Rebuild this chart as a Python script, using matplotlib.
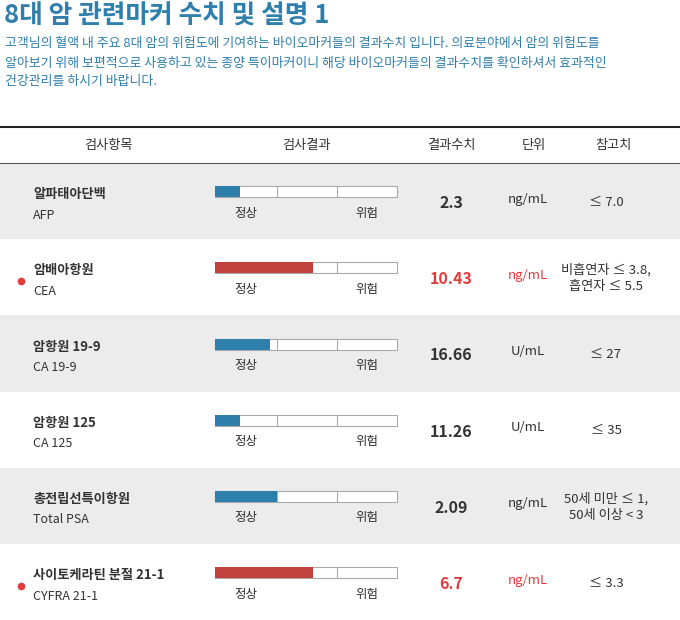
import matplotlib
matplotlib.use('Agg')
import matplotlib.pyplot as plt
from matplotlib.patches import Rectangle

plt.rcParams['font.family'] = ['Noto Sans CJK KR', 'DejaVu Sans']

# data
names_ko = ['알파태아단백', '암배아항원', '암항원 19-9', '암항원 125', '총전립선특이항원', '사이토케라틴 분절 21-1']
names_en = ['AFP', 'CEA', 'CA 19-9', 'CA 125', 'Total PSA', 'CYFRA 21-1']
values = ['2.3', '10.43', '16.66', '11.26', '2.09', '6.7']
units = ['ng/mL', 'ng/mL', 'U/mL', 'U/mL', 'ng/mL', 'ng/mL']
refs = ['≤ 7.0', '비흡연자 ≤ 3.8,\n흡연자 ≤ 5.5', '≤ 27', '≤ 35', '50세 미만 ≤ 1,\n50세 이상 < 3', '≤ 3.3']
levels = [0.14, 0.54, 0.30, 0.14, 0.34, 0.54]   # fill fraction of gauge
abnormal = [False, True, False, False, False, True]
headers = ['검사항목', '검사결과', '결과수치', '단위', '참고치']
header_x = [108, 306, 451, 534, 614]

BLUE = '#2f7fad'
RED_BAR = '#c1413d'
RED_TXT = '#e23b3b'
DARK = '#333333'

fig = plt.figure(figsize=(6.8, 6.2), dpi=100)
ax = fig.add_axes([0, 0, 1, 1])
ax.set_xlim(0, 680)
ax.set_ylim(620, 0)
ax.axis('off')

ax.text(4, 16, '8대 암 관련마커 수치 및 설명 1', fontsize=18.5, fontweight='bold',
        color=BLUE, va='center')
desc = ('고객님의 혈액 내 주요 8대 암의 위험도에 기여하는 바이오마커들의 결과수치 입니다. 의료분야에서 암의 위험도를\n'
        '알아보기 위해 보편적으로 사용하고 있는 종양 특이마커이니 해당 바이오마커들의 결과수치를 확인하셔서 효과적인\n'
        '건강관리를 하시기 바랍니다.')
ax.text(5, 63, desc, fontsize=9.3, color=BLUE, va='center', linespacing=1.6)

ax.plot([0, 680], [127, 127], color='#222222', lw=1.5)
ax.plot([0, 680], [163, 163], color='#555555', lw=0.8)
for h, x in zip(headers, header_x):
    ax.text(x, 146, h, fontsize=9.5, color=DARK, ha='center', va='center')

top, rh = 163, 76.2
gx0, gw = 215, 182
dividers = [277, 337]
for i in range(len(names_ko)):
    y0 = top + i * rh
    yc = y0 + rh / 2
    if i % 2 == 0:
        ax.add_patch(Rectangle((0, y0), 680, rh, color='#ececed', lw=0))
    ax.text(33, yc - 7, names_ko[i], fontsize=9.5, fontweight='bold', color=DARK, va='center')
    ax.text(33, yc + 14, names_en[i], fontsize=9, color=DARK, va='center')
    if abnormal[i]:
        ax.plot(21, yc + 4, 'o', color=RED_TXT, ms=4.5)
    # gauge
    gy = yc - 15
    ax.add_patch(Rectangle((gx0, gy), gw, 11, facecolor='white', edgecolor='#aaaaaa', lw=0.8, zorder=2))
    for d in dividers:
        ax.plot([d, d], [gy, gy + 11], color='#aaaaaa', lw=0.8, zorder=3)
    ax.add_patch(Rectangle((gx0, gy), gw * levels[i], 11,
                           color=RED_BAR if abnormal[i] else BLUE, lw=0, zorder=4))
    ax.text(246, yc + 12, '정상', fontsize=9, color=DARK, ha='center', va='center')
    ax.text(367, yc + 12, '위험', fontsize=9, color=DARK, ha='center', va='center')
    col = RED_TXT if abnormal[i] else DARK
    ax.text(451, yc + 2, values[i], fontsize=11.5, fontweight='bold', color=col, ha='center', va='center')
    ax.text(528, yc - 2, units[i], fontsize=9.5, color=RED_TXT if abnormal[i] else DARK,
            ha='center', va='center')
    ax.text(606, yc + 1, refs[i], fontsize=9.5, color=DARK, ha='center', va='center', linespacing=1.3)

fig.savefig('out.png', dpi=100)
